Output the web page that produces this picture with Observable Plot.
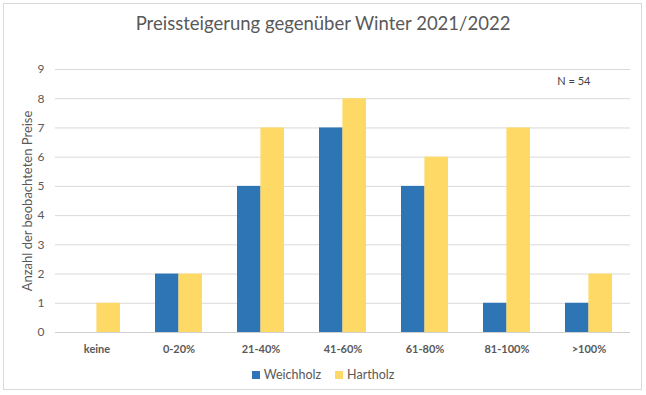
<!DOCTYPE html>
<html><head><meta charset="utf-8">
<script src="https://cdn.jsdelivr.net/npm/d3@7"></script>
<script src="https://cdn.jsdelivr.net/npm/@observablehq/plot@0.6"></script>
<style>
body{margin:0;background:#fff;font-family:Lato,"Open Sans",sans-serif;}
#wrap{position:relative;width:646px;height:395px;overflow:hidden;}
#frame{position:absolute;left:3px;top:3px;width:639px;height:387px;border:1px solid #d9d9d9;box-sizing:border-box;pointer-events:none;}
#title{position:absolute;top:12px;left:0;width:646px;text-align:center;font-size:18.5px;color:#595959;}
#legend{position:absolute;top:367px;left:0;width:646px;display:flex;justify-content:center;gap:14px;font-size:12.5px;color:#595959;}
#legend span.sw{display:inline-block;width:8px;height:8px;margin-right:4px;vertical-align:0px;}
#chart{position:absolute;left:0;top:0;}
#chart g[aria-label="y-axis label"] text{font-size:13px;}
</style></head>
<body>
<div id="wrap">
  <div id="chart"></div>
  <div id="title">Preissteigerung gegenüber Winter 2021/2022</div>
  <div id="legend"></div>
  <div id="frame"></div>
</div>
<script>
const categories = ["keine","0-20%","21-40%","41-60%","61-80%","81-100%",">100%"];
const series = ["Weichholz","Hartholz"];
const weichholz = [0,2,5,7,5,1,1];
const hartholz = [1,2,7,8,6,7,2];
const colors = ["#2E75B6","#FFD966"];
const yTicks = [0,1,2,3,4,5,6,7,8,9];
const note = "N = 54";

const rows = [];
categories.forEach((c,i)=>{
  rows.push({cat:c, series:series[0], value:weichholz[i]});
  rows.push({cat:c, series:series[1], value:hartholz[i]});
});

const W = 646, H = 395, mL = 55, mR = 16, mT = 69, mB = 63;
const pIn = 0.43, pOut = 0.215;
const step = (W - mL - mR) / (categories.length - pIn + 2*pOut);
const half = step * (1 - pIn) / 2;

const chart = Plot.plot({
  width: W, height: H,
  marginLeft: mL, marginRight: mR, marginTop: mT, marginBottom: mB,
  style: {fontFamily: "Lato, 'Open Sans', sans-serif", color: "#595959", background: "transparent"},
  x: {domain: categories, paddingInner: pIn, paddingOuter: pOut},
  y: {domain: [0, 9]},
  color: {domain: series, range: colors},
  marks: [
    Plot.gridY(yTicks, {stroke: "#d9d9d9", strokeOpacity: 1}),
    Plot.barY(rows.filter(d=>d.series===series[0]), {x:"cat", y:"value", fill:"series", insetRight: half}),
    Plot.barY(rows.filter(d=>d.series===series[1]), {x:"cat", y:"value", fill:"series", insetLeft: half}),
    Plot.ruleY([0], {stroke: "#d0d0d0"}),
    Plot.axisY(yTicks, {tickSize: 0, tickPadding: 11, fontSize: 12, label: "Anzahl der beobachteten Preise", labelAnchor: "center", labelOffset: 33, labelArrow: "none"}),
    Plot.axisX({tickSize: 0, tickPadding: 13, fontSize: 11, fontWeight: "bold", label: null}),
    Plot.text([note], {frameAnchor: "top-right", dx: -40, dy: 8, fontSize: 11, fill: "#404040"})
  ]
});
document.getElementById("chart").appendChild(chart);

const leg = document.getElementById("legend");
series.forEach((s,i)=>{
  const item = document.createElement("div");
  const sw = document.createElement("span");
  sw.className = "sw"; sw.style.background = colors[i];
  item.appendChild(sw);
  item.appendChild(document.createTextNode(s));
  leg.appendChild(item);
});
</script>
</body></html>
